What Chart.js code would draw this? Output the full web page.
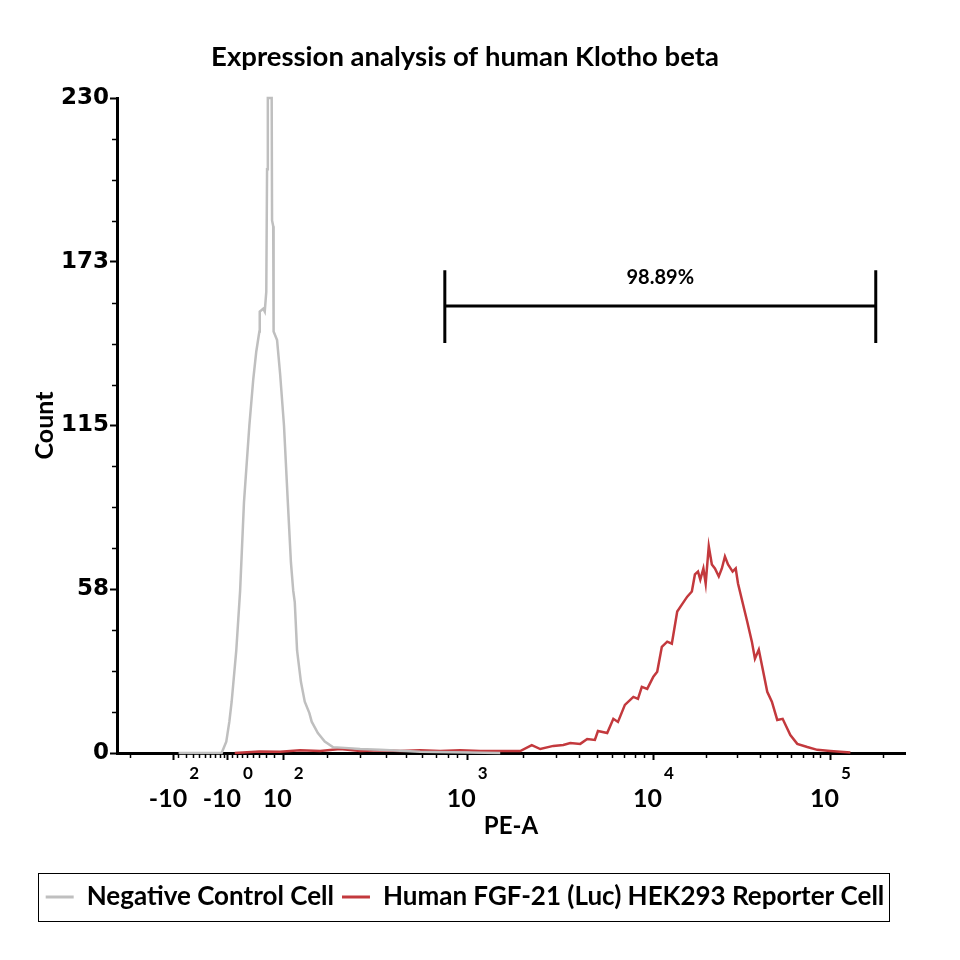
<!DOCTYPE html>
<html>
<head>
<meta charset="utf-8">
<script src="https://cdn.jsdelivr.net/npm/chart.js@4.4.1/dist/chart.umd.min.js"></script>
<style>
html,body{margin:0;padding:0;background:#fff;}
#wrap{width:960px;height:960px;}
</style>
</head>
<body>
<div id="wrap"><canvas id="c" width="960" height="960"></canvas></div>
<script>
// ---------- text ----------
const chartTitle = 'Expression analysis of human Klotho beta';
const xAxisTitle = 'PE-A';
const yAxisTitle = 'Count';
const seriesNames = ['Negative Control Cell', 'Human FGF-21 (Luc) HEK293 Reporter Cell'];
const seriesColors = ['#bfbfbf', '#c3393d'];

// ---------- data (x = display channel 0..1024 on biexponential PE-A axis, y = count) ----------
const negX = [80, 136, 142, 146, 149, 155, 160, 165, 172, 177, 181, 185, 185.5, 190, 192, 194, 195, 196, 201, 201.5, 203, 203.5, 208, 212, 217, 222, 226, 229, 231, 234, 239, 244, 250, 253, 261, 270, 281, 296, 316, 342, 394, 498];
const negY = [0, 0, 4, 11, 18, 36, 57, 88, 115, 131, 141, 148, 155, 156, 155, 162, 205, 230, 230, 187, 185, 148, 145, 133, 115, 88, 67, 57, 53, 36, 25, 18, 14, 11, 7, 4, 2, 1.8, 1.4, 1.1, 0.4, 0];

const posX = [153, 185, 212, 238, 264, 290, 316, 342, 368, 394, 420, 446, 472, 498, 524, 539, 550, 567, 580, 589, 602, 611, 621, 625, 637, 645, 651, 660, 671, 677, 682, 689, 697, 702, 708, 715, 721, 728, 734, 741, 747, 751, 755, 758, 762, 765, 769, 773, 777, 782, 786, 790, 794, 800, 804, 807, 812, 819, 825, 829, 834, 839, 845, 851, 858, 865, 875, 884, 897, 910, 927, 953];
const posY = [0, 0.5, 0.4, 1, 0.7, 1.4, 0.7, 1, 0.7, 1, 0.7, 1, 0.7, 0.7, 0.7, 2.8, 1.4, 2.5, 2.8, 3.5, 3.2, 4.9, 4.6, 7.7, 7.0, 12, 10.9, 16.9, 19.7, 19, 23.2, 22.5, 26.8, 28.5, 37.3, 39.1, 38.4, 49.7, 52.1, 54.9, 56.7, 62.7, 63.7, 60.9, 64.8, 59.5, 72.6, 66.2, 64.8, 62, 64.8, 69, 66.2, 63.7, 64.8, 59.5, 53.9, 46.1, 39.1, 33.1, 36.3, 29.6, 21.5, 18, 11.6, 12, 6.3, 3.2, 2.1, 1.1, 0.7, 0.2];

// ---------- axes ----------
const xRange = [0, 1024];
const yRange = [0, 230];
const yTicks = [0, 57.5, 115, 172.5, 230];
const yMinorTicks = [14.375, 28.75, 43.125, 71.875, 86.25, 100.625, 129.375, 143.75, 158.125, 186.875, 201.25, 215.625];
const xTickValues = [74, 144, 216, 455, 697, 927];
const xTickBases = ['-10', '-10', '10', '10', '10', '10'];
const xTickExps = ['2', '0', '2', '3', '4', '5'];
const xMinorTicks = [17, 79, 90, 99, 107, 114, 121, 127, 134, 139, 149, 156, 162, 169, 177, 185, 194, 204,
  273, 316, 350, 376, 396, 415, 430, 442,
  528, 570, 600, 624, 643, 659, 673, 685,
  765, 806, 836, 858, 876, 891, 904, 914, 995];

// ---------- gate ----------
const gateRange = [426, 986];
const gateLevel = 157;
const gateSpan = [144, 169.5];
const gateLabel = '98.89%';
const gateLabelLevel = 167;

const toPoints = (xs, ys) => xs.map((v, i) => ({x: v, y: ys[i]}));

const decorPlugin = {
  id: 'decor',
  afterDraw(chart) {
    const {ctx, chartArea} = chart;
    const x = chart.scales.x, y = chart.scales.y;
    ctx.save();
    ctx.strokeStyle = '#000';
    ctx.lineWidth = 1.5;
    xMinorTicks.forEach(v => {
      const px = Math.round(x.getPixelForValue(v)) + 0.5;
      ctx.beginPath(); ctx.moveTo(px, chartArea.bottom + 1); ctx.lineTo(px, chartArea.bottom + 5); ctx.stroke();
    });
    yMinorTicks.forEach(v => {
      const py = Math.round(y.getPixelForValue(v)) + 0.5;
      ctx.beginPath(); ctx.moveTo(chartArea.left - 1, py); ctx.lineTo(chartArea.left - 5, py); ctx.stroke();
    });
    // x tick labels with superscripts
    ctx.fillStyle = '#000';
    ctx.textBaseline = 'middle';
    ctx.textAlign = 'left';
    const baseFont = 'bold 25px Lato';
    const expFont = 'bold 17px Lato';
    xTickValues.forEach((v, i) => {
      const px = x.getPixelForValue(v);
      ctx.font = baseFont; const bw = ctx.measureText(xTickBases[i]).width;
      ctx.font = expFont; const ew = ctx.measureText(xTickExps[i]).width;
      const start = px - (bw + 2 + ew) / 2;
      ctx.font = baseFont; ctx.fillText(xTickBases[i], start, chartArea.bottom + 46);
      ctx.font = expFont; ctx.fillText(xTickExps[i], start + bw + 2, chartArea.bottom + 21);
    });
    // gate
    const gx1 = x.getPixelForValue(gateRange[0]);
    const gx2 = x.getPixelForValue(gateRange[1]);
    const gy = y.getPixelForValue(gateLevel);
    const gt = y.getPixelForValue(gateSpan[1]);
    const gb = y.getPixelForValue(gateSpan[0]);
    ctx.lineWidth = 3;
    ctx.beginPath();
    ctx.moveTo(gx1, gy); ctx.lineTo(gx2, gy);
    ctx.moveTo(gx1, gt); ctx.lineTo(gx1, gb);
    ctx.moveTo(gx2, gt); ctx.lineTo(gx2, gb);
    ctx.stroke();
    ctx.font = 'bold 20px Lato';
    ctx.textAlign = 'center';
    ctx.fillText(gateLabel, (gx1 + gx2) / 2, y.getPixelForValue(gateLabelLevel));
    // legend frame
    const hb = chart.legend.legendHitBoxes;
    if (hb && hb.length) {
      const l = Math.min(...hb.map(h => h.left)) - 8;
      const r = Math.max(...hb.map(h => h.left + h.width)) + 4;
      const t = Math.min(...hb.map(h => h.top)) - 11;
      const b = Math.max(...hb.map(h => h.top + h.height)) + 11;
      ctx.lineWidth = 1;
      ctx.strokeRect(Math.round(l) + 0.5, Math.round(t) + 0.5, Math.round(r - l), Math.round(b - t));
    }
    ctx.restore();
  }
};

new Chart(document.getElementById('c'), {
  type: 'line',
  data: {
    datasets: [
      {label: seriesNames[0], data: toPoints(negX, negY), borderColor: seriesColors[0], backgroundColor: seriesColors[0], borderWidth: 2.5, pointRadius: 0, tension: 0, fill: false, clip: 6},
      {label: seriesNames[1], data: toPoints(posX, posY), borderColor: seriesColors[1], backgroundColor: seriesColors[1], borderWidth: 2.5, pointRadius: 0, tension: 0, fill: false, clip: 6}
    ]
  },
  options: {
    responsive: false,
    animation: false,
    devicePixelRatio: 1,
    layout: {padding: {left: 25, right: 55, top: 0, bottom: 40}},
    plugins: {
      title: {display: true, text: chartTitle, color: '#000', font: {family: 'Lato', size: 27.5, weight: 'bold'}, padding: {top: 41, bottom: 24}},
      legend: {
        position: 'bottom',
        labels: {
          color: '#000',
          font: {family: 'Lato', size: 26, weight: 'bold'},
          boxWidth: 28, boxHeight: 3, padding: 8,
          generateLabels(chart) {
            const items = Chart.defaults.plugins.legend.labels.generateLabels(chart);
            items.forEach(it => { it.lineWidth = 0; it.fillStyle = it.strokeStyle; });
            return items;
          }
        }
      },
      tooltip: {enabled: false}
    },
    scales: {
      x: {
        type: 'linear', min: xRange[0], max: xRange[1],
        afterBuildTicks(scale) { scale.ticks = xTickValues.map(v => ({value: v})); },
        afterFit(scale) { scale.height = 123; },
        ticks: {display: false},
        grid: {display: true, drawOnChartArea: false, drawTicks: true, tickLength: 7, tickWidth: 2, tickColor: '#000', color: '#000'},
        border: {display: true, color: '#000', width: 3},
        title: {display: true, text: xAxisTitle, color: '#000', font: {family: 'Lato', size: 24, weight: 'bold'}, padding: {top: 0, bottom: 35}}
      },
      y: {
        type: 'linear', min: yRange[0], max: yRange[1],
        afterBuildTicks(scale) { scale.ticks = yTicks.map(v => ({value: v})); },
        afterFit(scale) { scale.width = 92; },
        ticks: {color: '#000', font: {family: 'DejaVu Sans', size: 23, weight: 'bold'}, padding: 1, callback: v => String(Math.round(v))},
        grid: {display: true, drawOnChartArea: false, drawTicks: true, tickLength: 7, tickWidth: 2, tickColor: '#000', color: '#000'},
        border: {display: true, color: '#000', width: 3},
        title: {display: true, text: yAxisTitle, color: '#000', font: {family: 'Lato', size: 25, weight: 'bold'}, padding: {top: 5, bottom: 0}}
      }
    }
  },
  plugins: [decorPlugin]
});
</script>
</body>
</html>
